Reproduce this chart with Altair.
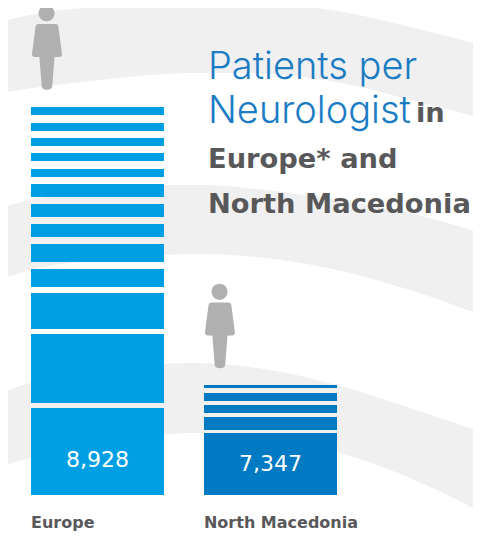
import altair as alt
import pandas as pd

W, H = 465, 524
BASE = 487

countries = ["Europe", "North Macedonia"]
totals = ["8,928", "7,347"]
total_heights = [28, 24]
person_heights = [447.5, 169]

europe_starts = [0, 92, 166, 208, 233, 258, 278, 298, 318, 334, 349, 364, 380]
europe_ends = [87, 161, 202, 226, 251, 271, 291, 311, 326, 342, 357, 372, 388]
macedonia_starts = [0, 65, 82, 94, 107]
macedonia_ends = [62, 78, 90, 102, 110]

band_top_x = [0, 40, 100, 190, 240, 330, 423, 481]
band_top_upper = [22, 13, 7, 3, 3, 10, 30, 45]
band_top_lower = [93, 87, 80, 73, 73, 81, 103, 118]

band_mid_x = [0, 30, 100, 165, 200, 256, 337, 410, 481]
band_mid_upper = [208, 200, 190, 185, 185, 189, 200, 213, 233]
band_mid_lower = [280, 270, 260, 255, 254, 257, 270, 290, 315]

band_low_x = [0, 30, 110, 190, 250, 337, 410, 481]
band_low_upper = [393, 383, 370, 363, 367, 385, 408, 432]
band_low_lower = [467, 458, 443, 433, 436, 452, 478, 512]

PERSON = (
    "M-0.2 -0.81A0.19 0.19 0 1 1 0.18 -0.81A0.19 0.19 0 1 1 -0.2 -0.81Z"
    "M-0.2 -0.557L0.2 -0.557Q0.26 -0.557 0.27 -0.5L0.355 0.15Q0.36 0.225 0.29 0.225"
    "L0.18 0.225L0.125 0.92Q0.12 1 0 1Q-0.12 1 -0.125 0.92L-0.18 0.225L-0.29 0.225"
    "Q-0.36 0.225 -0.355 0.15L-0.27 -0.5Q-0.26 -0.557 -0.2 -0.557Z"
)

LIGHT = "Inter"
HEAVY = "DejaVu Sans"
BLUE_TITLE = "#1b7cc4"
DARK = "#58585a"
GREY = "#f0f0f1"

rows = []
for name, xs, up, lo in [
    ("a", band_top_x, band_top_upper, band_top_lower),
    ("b", band_mid_x, band_mid_upper, band_mid_lower),
    ("c", band_low_x, band_low_upper, band_low_lower),
]:
    for x, u, l in zip(xs, up, lo):
        rows.append({"band": name, "x": x, "u": u, "l": l})
bands = pd.DataFrame(rows)

segs = pd.DataFrame(
    [{"c": countries[0], "s": s, "e": e} for s, e in zip(europe_starts, europe_ends)]
    + [{"c": countries[1], "s": s, "e": e} for s, e in zip(macedonia_starts, macedonia_ends)]
)
labels = pd.DataFrame({"c": countries, "t": totals, "v": total_heights, "p": person_heights})

px_x = alt.Scale(domain=[8, 8 + W], range=[0, W])
px_y = alt.Scale(domain=[8, 8 + H], range=[0, H])
cat_x = alt.Scale(type="band", domain=countries, range=[23, 329], paddingInner=0.231, paddingOuter=0)
val_y = alt.Scale(domain=[BASE, BASE - H], range=[0, H])

arcs = (
    alt.Chart(bands)
    .mark_area(color=GREY, interpolate="monotone", clip=True)
    .encode(
        x=alt.X("x:Q", scale=px_x, axis=None),
        y=alt.Y("u:Q", scale=px_y, axis=None),
        y2="l:Q",
        detail="band:N",
    )
)

bars = (
    alt.Chart(segs)
    .mark_bar()
    .encode(
        x=alt.X("c:N", scale=cat_x, axis=None),
        y=alt.Y("s:Q", scale=val_y, axis=None),
        y2="e:Q",
        color=alt.Color(
            "c:N",
            scale=alt.Scale(domain=countries, range=["#009fe3", "#007ac3"]),
            legend=None,
        ),
    )
)

people = (
    alt.Chart(labels)
    .mark_point(shape=PERSON, filled=True, size=7100, color="#b0b0b0", opacity=1, strokeWidth=0)
    .encode(
        x=alt.X("c:N", scale=cat_x, axis=None, bandPosition=0.12),
        y=alt.Y("p:Q", scale=val_y, axis=None),
    )
)

values = (
    alt.Chart(labels)
    .mark_text(font=HEAVY, fontSize=22, color="white", baseline="alphabetic")
    .encode(
        x=alt.X("c:N", scale=cat_x, axis=None, bandPosition=0.5),
        y=alt.Y("v:Q", scale=val_y, axis=None),
        text="t:N",
    )
)

names = (
    alt.Chart(labels)
    .mark_text(font=HEAVY, fontSize=16, fontWeight=700, color=DARK, align="left", baseline="alphabetic")
    .encode(
        x=alt.X("c:N", scale=cat_x, axis=None, bandPosition=0),
        y=alt.value(520),
        text="c:N",
    )
)


def title_text(txt, x, y, size, weight, color, font):
    return (
        alt.Chart(pd.DataFrame({"t": [txt]}))
        .mark_text(font=font, fontSize=size, fontWeight=weight, color=color, align="left", baseline="alphabetic")
        .encode(x=alt.value(x - 8), y=alt.value(y - 8), text="t:N")
    )


titles = [
    title_text("Patients per", 208, 79, 38, 300, BLUE_TITLE, LIGHT),
    title_text("Neurologist", 208, 123, 38, 300, BLUE_TITLE, LIGHT),
    title_text("in", 416, 122, 27.3, 700, DARK, HEAVY),
    title_text("Europe* and", 208, 168, 27.3, 700, DARK, HEAVY),
    title_text("North Macedonia", 208, 213, 27.3, 700, DARK, HEAVY),
]

chart = (
    alt.layer(arcs, bars, people, values, names, *titles)
    .resolve_scale(x="independent", y="independent", color="independent")
    .properties(width=W, height=H, padding=0, autosize=alt.AutoSizeParams(type="none"))
    .configure_view(stroke=None)
)

chart.save("out.html", embed_options={"renderer": "svg", "actions": False})
